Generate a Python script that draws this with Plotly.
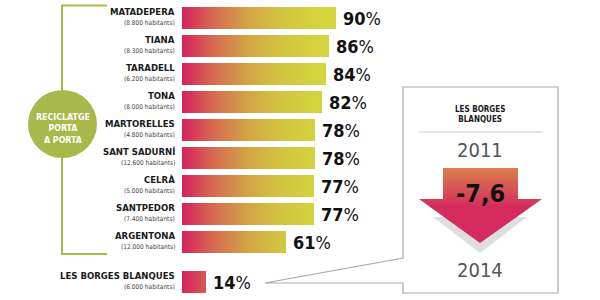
import numpy as np
import plotly.graph_objects as go

# ---------------- data ----------------
municipalities = ["MATADEPERA", "TIANA", "TARADELL", "TONA", "MARTORELLES",
                  "SANT SADURNÍ", "CELRÀ", "SANTPEDOR", "ARGENTONA",
                  "LES BORGES BLANQUES"]
population = [8800, 8300, 6200, 8000, 4800, 12600, 5000, 7400, 12000, 6000]
recycling_pct = [90, 86, 84, 82, 78, 78, 77, 77, 61, 14]
group_label = ["RECICLATGE", "PORTA", "A PORTA"]
highlight_title = ["LES BORGES", "BLANQUES"]
highlight_years = ["2011", "2014"]
highlight_change = -7.6

# ---------------- layout helpers ----------------
W, H = 600, 300
X0_PX, PX_PER_PCT = 182, 1.71
Y0_PX, ROW_PX = 18, 28
n_main = len(municipalities) - 1
rows = [float(i) for i in range(n_main)] + [n_main - 1 + 1.43]
row_px = [Y0_PX + ROW_PX * r for r in rows]

COND = "DejaVu Sans Condensed, Liberation Sans Narrow, sans-serif"

stops = [(0, (214, 36, 94)), (20, (213, 112, 79)), (38, (212, 163, 69)),
         (58, (210, 197, 64)), (80, (212, 212, 62)), (100, (212, 214, 62))]


def grad(v):
    xs = [s[0] for s in stops]
    rgb = [int(round(np.interp(v, xs, [s[1][c] for s in stops]))) for c in range(3)]
    return f"rgb({rgb[0]},{rgb[1]},{rgb[2]})"


# gradient bars: each bar split into thin segments coloured by position
step = 1.0
ys, bases, widths, colors = [], [], [], []
for r, v in zip(rows, recycling_pct):
    k = 0.0
    while k < v - 1e-9:
        ys.append(r)
        bases.append(k)
        widths.append(min(step + 0.4, v - k))
        colors.append(grad(k + step / 2))
        k += step

fig = go.Figure()
fig.add_trace(go.Bar(orientation="h", y=ys, x=widths, base=bases, width=0.8,
                     marker=dict(color=colors, line=dict(width=0)),
                     hoverinfo="skip", showlegend=False))

# arrow shadow + arrow (pixel overlay axes)
fig.add_trace(go.Scatter(x=[433, 527, 480, 433], y=[217, 217, 253, 217],
                         xaxis="x2", yaxis="y2", mode="lines", fill="toself",
                         fillcolor="#dedede", line=dict(width=0),
                         hoverinfo="skip", showlegend=False))
ax = [443, 518, 518, 542, 480, 419, 443, 443]
ay = [168, 168, 199, 199, 243, 199, 199, 168]
fig.add_trace(go.Scatter(x=ax, y=ay, xaxis="x2", yaxis="y2", mode="lines",
                         fill="toself", line=dict(width=0),
                         fillgradient=dict(type="vertical",
                                           colorscale=[[0, "#da7f4b"], [1, "#d42a5d"]],
                                           start=168, stop=208),
                         hoverinfo="skip", showlegend=False))

annotations = []
for name, pop, rp in zip(municipalities, population, row_px):
    annotations.append(dict(xref="x2", yref="y2", x=177, y=rp - 6.3, xanchor="right",
                            yanchor="middle", showarrow=False, text=f"<b>{name}</b>",
                            font=dict(family=COND, size=9.5, color="#1a1a1a")))
    pop_s = f"{pop:,}".replace(",", ".")
    annotations.append(dict(xref="x2", yref="y2", x=177, y=rp + 5.4, xanchor="right",
                            yanchor="middle", showarrow=False,
                            text=f"({pop_s} habitants)",
                            font=dict(family=COND, size=6.5, color="#444")))
for r, v in zip(rows, recycling_pct):
    annotations.append(dict(xref="x", yref="y", x=v, y=r, xanchor="left", yanchor="middle",
                            xshift=5, showarrow=False,
                            text=f"<b>{v}</b><span style='font-weight:normal'>%</span>",
                            font=dict(family=COND, size=18, color="#111")))

annotations.append(dict(xref="x2", yref="y2", x=63, y=128, xanchor="center", yanchor="middle",
                        showarrow=False, text="<br>".join(f"<b>{t}</b>" for t in group_label),
                        font=dict(family=COND, size=8.8, color="white")))
annotations.append(dict(xref="x2", yref="y2", x=480, y=114, xanchor="center", yanchor="middle",
                        showarrow=False, text="<br>".join(f"<b>{t}</b>" for t in highlight_title),
                        font=dict(family=COND, size=8, color="#1a1a1a")))
annotations.append(dict(xref="x2", yref="y2", x=480, y=150, xanchor="center", yanchor="middle",
                        showarrow=False, text=highlight_years[0],
                        font=dict(family=COND, size=20, color="#555")))
annotations.append(dict(xref="x2", yref="y2", x=480, y=270, xanchor="center", yanchor="middle",
                        showarrow=False, text=highlight_years[1],
                        font=dict(family=COND, size=20, color="#555")))
change_s = f"{highlight_change:.1f}".replace(".", ",")
annotations.append(dict(xref="x2", yref="y2", x=480, y=193, xanchor="center", yanchor="middle",
                        showarrow=False, text=f"<b>{change_s}</b>",
                        font=dict(family=COND, size=25, color="#111")))

green = "#a8b84a"
shapes = [
    dict(type="path", xref="x2", yref="y2", layer="below",
         path="M265,283 L403,258 L403,87 L558,87 L558,293 L403,293 L403,283 Z",
         line=dict(color="#aaaaaa", width=1.2), fillcolor="white"),
    dict(type="line", xref="x2", yref="y2", x0=419, x1=542, y0=132, y1=132,
         line=dict(color="#cccccc", width=1)),
    dict(type="path", xref="x2", yref="y2", path="M107,5.5 L62,5.5 L62,254 L107,254",
         line=dict(color=green, width=2)),
    dict(type="circle", xref="x2", yref="y2", x0=28, x1=97, y0=90, y1=158,
         fillcolor=green, line=dict(width=0)),
]

fig.update_layout(
    width=W, height=H, margin=dict(l=0, r=0, t=0, b=0),
    paper_bgcolor="white", plot_bgcolor="white", barmode="overlay", bargap=0,
    xaxis=dict(range=[-X0_PX / PX_PER_PCT, (W - X0_PX) / PX_PER_PCT], visible=False,
               fixedrange=True),
    yaxis=dict(range=[(H - Y0_PX) / ROW_PX, -Y0_PX / ROW_PX], visible=False,
               fixedrange=True),
    xaxis2=dict(range=[0, W], overlaying="x", visible=False, fixedrange=True),
    yaxis2=dict(range=[H, 0], overlaying="y", visible=False, fixedrange=True),
    annotations=annotations, shapes=shapes, showlegend=False,
)

fig.write_html("out.html", config={"displayModeBar": False})
